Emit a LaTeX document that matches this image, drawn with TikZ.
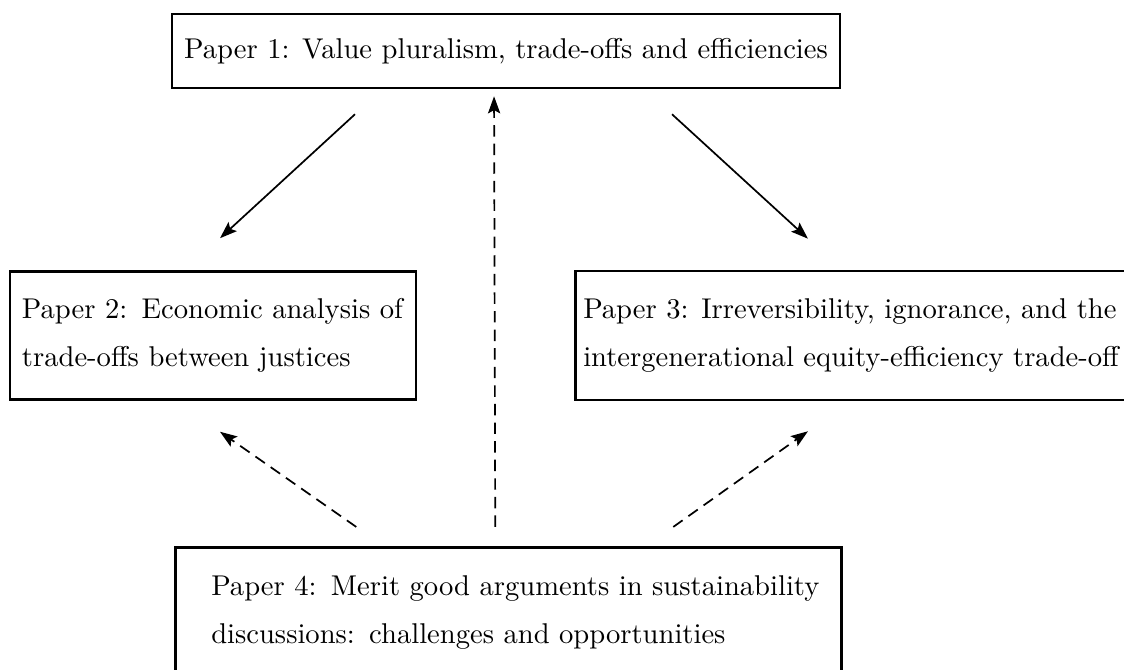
\documentclass[tikz,border=0pt]{standalone}
\usepackage{tikz}
\usetikzlibrary{arrows.meta, positioning}

\begin{document}
\begin{tikzpicture}[
    paper/.style={rectangle, draw, line width=0.9pt, align=left, font={\fontsize{10}{17}\selectfont}},
    arr/.style={-{Stealth[length=2.1mm, width=1.5mm, inset=0.4mm]}, semithick},
    darr/.style={arr, dash pattern=on 4pt off 2.5pt}
]
\useasboundingbox (0,0) rectangle (13.814,-8.234);

% Papers
\node[paper, align=center, minimum width=8.21cm, minimum height=0.909cm] (p1) at (6.219,-0.627)
    {Paper 1: Value pluralism, trade-offs and efficiencies};
\node[paper, text width=133.6pt, inner xsep=4.2pt, minimum height=1.573cm] (p2) at (2.618,-4.123)
    {Paper 2: Economic analysis of\\trade-offs between justices};
\node[paper, anchor=west, inner xsep=2.8pt, minimum height=1.585cm] (p3) at (7.054,-4.123)
    {Paper 3: Irreversibility, ignorance, and the\\intergenerational equity-efficiency trade-off};
\node[paper, anchor=north west, text width=218.9pt, inner xsep=7pt, minimum height=1.6cm] (p4) at (2.138,-6.710)
    {\hspace*{5.6pt}Paper 4: Merit good arguments in sustainability\\\hspace*{5.6pt}discussions: challenges and opportunities};

% Paper 1 feeds 2 and 3
\draw[arr] ([shift={(-1.856,-0.307)}]p1.south) -- ([shift={(0.086,0.393)}]p2.north);
\draw[arr] ([shift={(2.040,-0.307)}]p1.south) -- ([shift={(2.876,0.381)}]p3.north west);

% Paper 4 supports the others
\draw[darr] ([shift={(-0.160,0.234)}]p4.north) -- ([shift={(-0.147,-0.086)}]p1.south);
\draw[darr] ([shift={(-1.868,0.234)}]p4.north) -- ([shift={(0.086,-0.381)}]p2.south);
\draw[darr] ([shift={(2.028,0.234)}]p4.north) -- ([shift={(2.876,-0.369)}]p3.south west);
\end{tikzpicture}
\end{document}
